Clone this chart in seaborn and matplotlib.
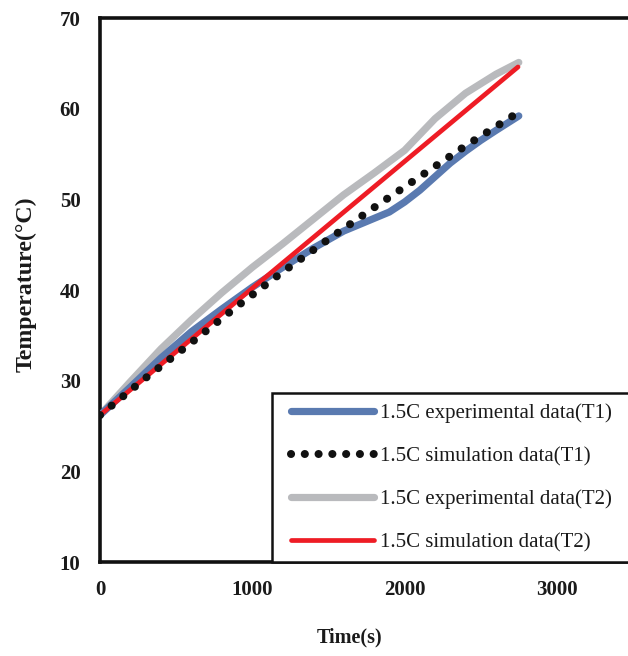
import matplotlib
matplotlib.use("Agg")
import matplotlib.pyplot as plt
from matplotlib.patches import Rectangle
import seaborn as sns
import pandas as pd

# Time axis (s) for the T1 experimental curve
time_exp = [0, 200, 400, 600, 800, 1000, 1200, 1400, 1600, 1800, 1900,
            2000, 2100, 2200, 2300, 2400, 2500, 2600, 2750]
# 1.5C experimental data, thermocouple T1 (°C)
exp_t1 = [26.2, 29.3, 32.5, 35.4, 37.9, 40.3, 42.5, 44.6, 46.5, 47.9, 48.6,
          49.7, 51.0, 52.5, 54.0, 55.3, 56.5, 57.6, 59.2]

# Time axis (s) for the T2 experimental curve
time_exp2 = [0, 200, 400, 600, 800, 1000, 1200, 1400, 1600, 1800, 2000,
             2200, 2400, 2600, 2750]
# 1.5C experimental data, thermocouple T2 (°C)
exp_t2 = [26.2, 29.9, 33.5, 36.7, 39.7, 42.5, 45.1, 47.8, 50.5, 52.9, 55.4,
          58.9, 61.7, 63.8, 65.1]

# Simulation results
time_sim1 = [0, 300, 600, 900, 1200, 1500, 1800, 2100, 2400, 2720]
sim_t1 = [26.2, 30.3, 34.2, 38.2, 42.0, 45.6, 49.1, 52.5, 55.9, 59.3]

time_sim2 = [0, 2745]
sim_t2 = [26.2, 64.6]

labels = ["1.5C experimental data(T1)", "1.5C simulation data(T1)",
          "1.5C experimental data(T2)", "1.5C simulation data(T2)"]
x_ticks = [0, 1000, 2000, 3000]
y_ticks = [10, 20, 30, 40, 50, 60, 70]

sns.set_style("white")
plt.rcParams["font.family"] = ["Liberation Serif", "DejaVu Serif"]

fig = plt.figure(figsize=(6.28, 6.56), dpi=100)
ax = fig.add_axes([100 / 628, (656 - 562) / 656, 533 / 628, 544 / 656])

df_e1 = pd.DataFrame({"t": time_exp, "T": exp_t1})
df_e2 = pd.DataFrame({"t": time_exp2, "T": exp_t2})
df_s1 = pd.DataFrame({"t": time_sim1, "T": sim_t1})
df_s2 = pd.DataFrame({"t": time_sim2, "T": sim_t2})

sns.lineplot(data=df_e1, x="t", y="T", ax=ax, color="#5a7ab0", lw=5.2,
             label=labels[0], solid_capstyle="round", zorder=3)
sns.lineplot(data=df_s1, x="t", y="T", ax=ax, color="#111111", lw=5.8,
             linestyle=(0, (0.01, 1.85)), dash_capstyle="round",
             label=labels[1], zorder=5)
sns.lineplot(data=df_e2, x="t", y="T", ax=ax, color="#b9babd", lw=5.2,
             label=labels[2], solid_capstyle="round", zorder=2)
sns.lineplot(data=df_s2, x="t", y="T", ax=ax, color="#ee1c25", lw=3.4,
             label=labels[3], solid_capstyle="round", zorder=4)

ax.set_xlim(0, 3500)
ax.set_ylim(10, 70)
ax.set_xticks(x_ticks)
ax.set_yticks(y_ticks)
ax.tick_params(axis="both", direction="in", length=3, color="#999999",
               labelsize=15)
ax.tick_params(axis="y", pad=14)
ax.tick_params(axis="x", pad=13)
for lab in ax.get_xticklabels() + ax.get_yticklabels():
    lab.set_fontweight("bold")
    lab.set_color("#1a1a1a")

ax.set_xlabel("Time(s)", fontsize=14.5, fontweight="bold", color="#1a1a1a")
ax.set_ylabel("Temperature(°C)", fontsize=17.2, fontweight="bold",
              color="#1a1a1a")
ax.xaxis.set_label_coords(0.469, -0.121)
ax.yaxis.set_label_coords(-0.118, 0.511)

for side in ["left", "top", "bottom"]:
    ax.spines[side].set_color("#111111")
    ax.spines[side].set_linewidth(2.6)
ax.spines["right"].set_visible(False)

# legend box running off the right edge of the figure
ax.add_patch(Rectangle((0.323, 0.0), 1.0, 0.311, transform=ax.transAxes,
                       facecolor="white", edgecolor="#111111", lw=1.8,
                       zorder=6, clip_on=False))
leg = ax.legend(loc="upper left", bbox_to_anchor=(0.358, 0.291),
                borderaxespad=0, borderpad=0, frameon=False,
                fontsize=15, handlelength=4.0, handletextpad=0.3,
                labelspacing=1.12)
leg.set_zorder(7)
# tighter dot spacing for the dotted legend key
leg.legend_handles[1].set_linestyle((0, (0.01, 1.7)))
for t in leg.get_texts():
    t.set_color("#1a1a1a")

fig.savefig("out.png", dpi=100)
